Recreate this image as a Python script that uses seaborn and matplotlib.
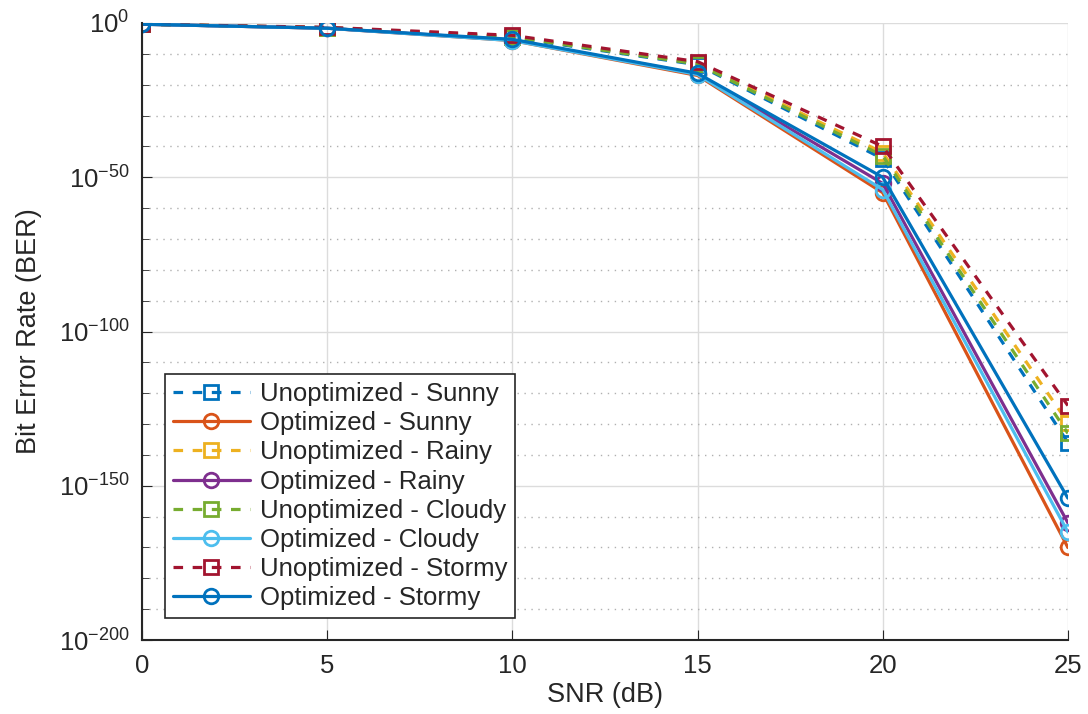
import numpy as np
import pandas as pd
import matplotlib
matplotlib.use('Agg')
from matplotlib import pyplot as plt
from matplotlib.ticker import FixedLocator, LogFormatterSciNotation, NullFormatter
from matplotlib.lines import Line2D
import seaborn as sns

sns.set_style('white')
plt.rcParams['font.family'] = ['Liberation Sans', 'DejaVu Sans']
plt.rcParams['mathtext.fontset'] = 'custom'
plt.rcParams['mathtext.rm'] = 'Liberation Sans'
plt.rcParams['mathtext.it'] = 'Liberation Sans:italic'

snr = [0, 5, 10, 15, 20, 25]

# BER values
unopt_sunny = [0.4, 3e-2, 2e-5, 3e-14, 1e-44, 1e-136]
opt_sunny = [0.4, 2e-2, 2e-6, 1e-17, 1e-55, 1e-170]
unopt_rainy = [0.4, 3e-2, 4e-5, 1e-13, 1e-42, 3e-130]
opt_rainy = [0.4, 2e-2, 3e-6, 3e-17, 1e-52, 1e-162]
unopt_cloudy = [0.4, 3e-2, 3e-5, 5e-14, 1e-43, 1e-133]
opt_cloudy = [0.4, 2e-2, 2e-6, 2e-17, 1e-54, 1e-165]
unopt_stormy = [0.4, 4e-2, 1e-4, 3e-13, 1e-40, 1e-124]
opt_stormy = [0.4, 2e-2, 5e-6, 5e-17, 1e-50, 1e-154]

labels = ['Unoptimized - Sunny', 'Optimized - Sunny', 'Unoptimized - Rainy', 'Optimized - Rainy',
          'Unoptimized - Cloudy', 'Optimized - Cloudy', 'Unoptimized - Stormy', 'Optimized - Stormy']
series = [unopt_sunny, opt_sunny, unopt_rainy, opt_rainy,
          unopt_cloudy, opt_cloudy, unopt_stormy, opt_stormy]
colors = ['#0072BD', '#D95319', '#EDB120', '#7E2F8E', '#77AC30', '#4DBEEE', '#A2142F', '#0072BD']

fig = plt.figure(figsize=(10.88, 7.14), dpi=100)
ax = fig.add_axes([0.1305, 0.1036, 0.851, 0.8642])
ax.set_yscale('log')

handles = []
for lab, vals, col in zip(labels, series, colors):
    unopt = lab.startswith('Unopt')
    style = dict(marker='s' if unopt else 'o', markersize=10.5, mfc='none', mec=col, mew=2,
                 lw=2.3, color=col)
    sns.lineplot(x=snr, y=vals, ax=ax, linestyle=(0, (3, 3)) if unopt else '-', **style)
    handles.append(Line2D([], [], linestyle=(0, (3, 3)) if unopt else '-', label=lab, **style))

ax.set_xlim(0, 25)
ax.set_ylim(1e-200, 1e0)
ax.set_xticks(snr)
ax.yaxis.set_major_locator(FixedLocator([1e0, 1e-50, 1e-100, 1e-150, 1e-200]))
ax.yaxis.set_major_formatter(LogFormatterSciNotation())
ax.yaxis.set_minor_locator(FixedLocator([10.0 ** -k for k in range(10, 200, 10) if k % 50]))
ax.yaxis.set_minor_formatter(NullFormatter())

ax.grid(True, which='major', color='#dcdcdc', lw=1, ls='-')
ax.grid(True, which='minor', axis='y', color='#b0b0b0', lw=1, ls=(0, (1, 4)))
ax.set_axisbelow(True)
for s in ['top', 'right']:
    ax.spines[s].set_visible(False)
for s in ['left', 'bottom']:
    ax.spines[s].set_color('#262626')
    ax.spines[s].set_linewidth(1.5)
ax.tick_params(axis='both', which='both', direction='in', colors='#262626', labelsize=18.5,
               left=True, bottom=True)
ax.tick_params(axis='y', which='major', length=7, pad=9)
ax.tick_params(axis='y', which='minor', length=5)
ax.tick_params(axis='x', length=7, pad=10)

ax.set_xlabel('SNR (dB)', fontsize=19.5, color='#262626', labelpad=3)
ax.set_ylabel('Bit Error Rate (BER)', fontsize=19.5, color='#262626', labelpad=12)

leg = ax.legend(handles=handles, loc='lower left', bbox_to_anchor=(0.025, 0.036), fontsize=18.5,
                handlelength=3.0, labelspacing=0.2, frameon=True, fancybox=False,
                borderpad=0.3, handletextpad=0.4, borderaxespad=0)
leg.get_frame().set_edgecolor('#262626')
leg.get_frame().set_linewidth(1.2)
leg.get_frame().set_alpha(1)

fig.savefig('out.png', dpi=100)
